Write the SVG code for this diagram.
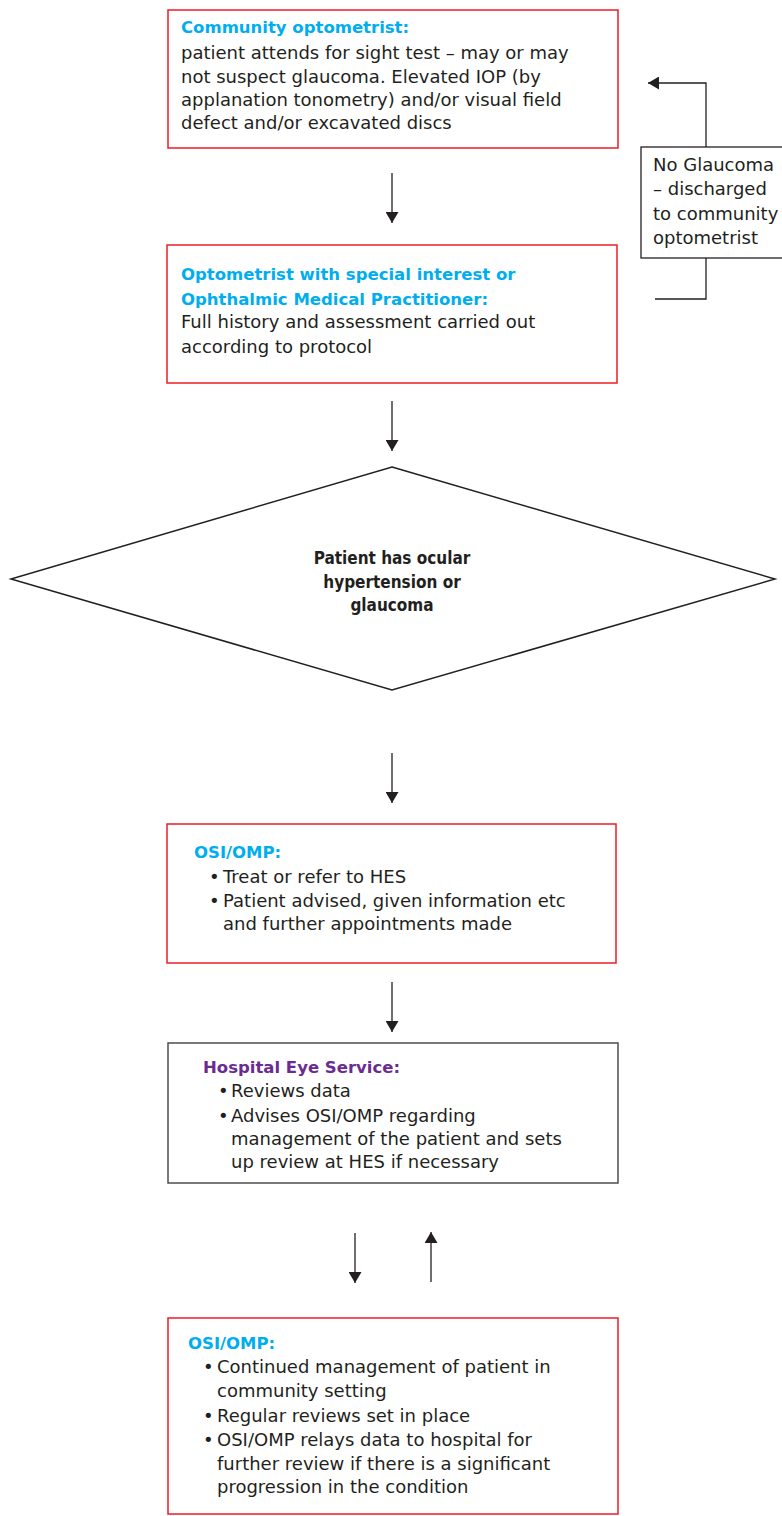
<svg xmlns="http://www.w3.org/2000/svg" width="782" height="1516" viewBox="0 0 782 1516">
<defs>
<style>
.red{fill:#fff;stroke:#ed1c24;stroke-width:1.5}
.gray{fill:#fff;stroke:#4d4d4d;stroke-width:1.5}
.blk{fill:#fff;stroke:#231f20;stroke-width:1.3}
.body{font-family:"DejaVu Sans","Liberation Sans",sans-serif;font-size:18px;fill:#231f20}
.hd{font-family:"DejaVu Sans","Liberation Sans",sans-serif;font-size:16.5px;font-weight:bold;fill:#00aeef}
.hp{font-family:"DejaVu Sans","Liberation Sans",sans-serif;font-size:16.5px;font-weight:bold;fill:#6b2c91}
.dt{font-family:"DejaVu Sans Condensed","DejaVu Sans",sans-serif;font-stretch:condensed;font-size:17px;font-weight:bold;fill:#231f20}
.conn{fill:none;stroke:#231f20;stroke-width:1.3}
</style>
<marker id="ah" viewBox="0 0 11 13" refX="11" refY="6.5" markerWidth="11" markerHeight="13" markerUnits="userSpaceOnUse" orient="auto">
<path d="M0,0 L11,6.5 L0,13 z" fill="#231f20"/>
</marker>
</defs>
<rect width="782" height="1516" fill="#fff"/>

<g id="connectors">
<line class="conn" x1="392" y1="173" x2="392" y2="223" marker-end="url(#ah)"/>
<line class="conn" x1="392" y1="401" x2="392" y2="451" marker-end="url(#ah)"/>
<line class="conn" x1="392" y1="753" x2="392" y2="803" marker-end="url(#ah)"/>
<line class="conn" x1="392" y1="982" x2="392" y2="1032" marker-end="url(#ah)"/>
<line class="conn" x1="355" y1="1233" x2="355" y2="1283" marker-end="url(#ah)"/>
<line class="conn" x1="431" y1="1282" x2="431" y2="1232" marker-end="url(#ah)"/>
<path class="conn" d="M706,147 V83 H648" marker-end="url(#ah)"/>
<path class="conn" d="M706,258 V299 H655"/>
</g>

<g id="community-optometrist">
<rect class="red" x="168" y="10" width="450" height="138"/>
<text class="hd" x="181" y="33">Community optometrist:</text>
<text class="body" x="181" y="59">patient attends for sight test – may or may</text>
<text class="body" x="181" y="82.5">not suspect glaucoma. Elevated IOP (by</text>
<text class="body" x="181" y="106">applanation tonometry) and/or visual field</text>
<text class="body" x="181" y="129">defect and/or excavated discs</text>
</g>

<g id="no-glaucoma">
<rect class="blk" x="641" y="147" width="160" height="111"/>
<text class="body" x="653" y="171">No Glaucoma</text>
<text class="body" x="653" y="195">– discharged</text>
<text class="body" x="653" y="219.5">to community</text>
<text class="body" x="653" y="244">optometrist</text>
</g>

<g id="osi-omp-assessment">
<rect class="red" x="167" y="245" width="450" height="138"/>
<text class="hd" x="181" y="280">Optometrist with special interest or</text>
<text class="hd" x="181" y="305">Ophthalmic Medical Practitioner:</text>
<text class="body" x="181" y="328">Full history and assessment carried out</text>
<text class="body" x="181" y="352.5">according to protocol</text>
</g>

<g id="decision">
<polygon class="blk" points="392,467 775,579 392,690 11,579" style="stroke-width:1.5"/>
<text class="dt" x="392" y="564" text-anchor="middle">Patient has ocular</text>
<text class="dt" x="392" y="588" text-anchor="middle">hypertension or</text>
<text class="dt" x="392" y="611" text-anchor="middle">glaucoma</text>
</g>

<g id="osi-omp-treat">
<rect class="red" x="167" y="824" width="449" height="139"/>
<text class="hd" x="194" y="858">OSI/OMP:</text>
<text class="body" x="209" y="883">•</text>
<text class="body" x="223" y="883">Treat or refer to HES</text>
<text class="body" x="209" y="907">•</text>
<text class="body" x="223" y="907">Patient advised, given information etc</text>
<text class="body" x="223" y="930">and further appointments made</text>
</g>

<g id="hospital-eye-service">
<rect class="gray" x="168" y="1043" width="450" height="140"/>
<text class="hp" x="203" y="1073">Hospital Eye Service:</text>
<text class="body" x="218" y="1097">•</text>
<text class="body" x="231" y="1097">Reviews data</text>
<text class="body" x="218" y="1122">•</text>
<text class="body" x="231" y="1122">Advises OSI/OMP regarding</text>
<text class="body" x="231" y="1145">management of the patient and sets</text>
<text class="body" x="231" y="1168">up review at HES if necessary</text>
</g>

<g id="osi-omp-continued">
<rect class="red" x="168" y="1318" width="450" height="196"/>
<text class="hd" x="188" y="1349">OSI/OMP:</text>
<text class="body" x="203" y="1373">•</text>
<text class="body" x="217" y="1373">Continued management of patient in</text>
<text class="body" x="217" y="1397">community setting</text>
<text class="body" x="203" y="1422">•</text>
<text class="body" x="217" y="1422">Regular reviews set in place</text>
<text class="body" x="203" y="1446">•</text>
<text class="body" x="217" y="1446">OSI/OMP relays data to hospital for</text>
<text class="body" x="217" y="1470">further review if there is a significant</text>
<text class="body" x="217" y="1493">progression in the condition</text>
</g>
</svg>
